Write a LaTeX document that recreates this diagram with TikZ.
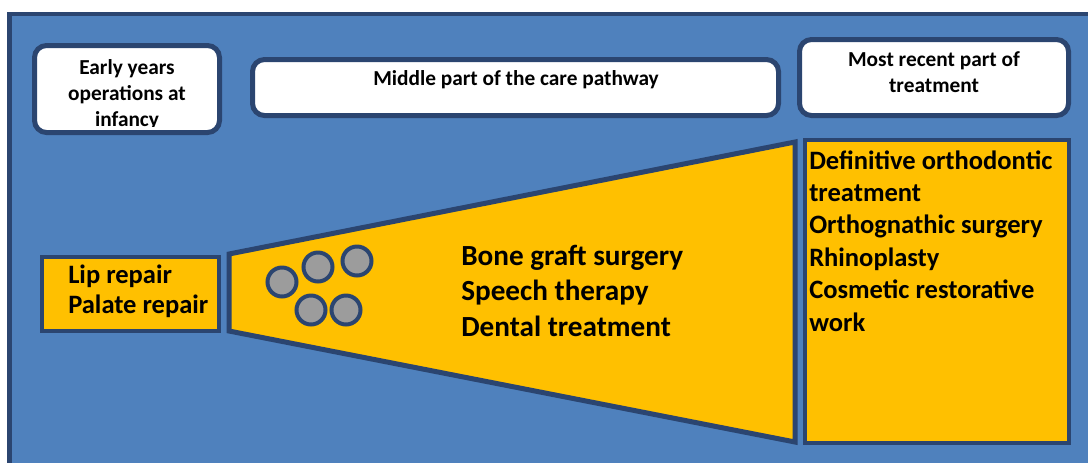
\documentclass[tikz,border=0pt]{standalone}
\usepackage{fontspec}
\setmainfont{Carlito}[BoldFont={Carlito Bold}]
\definecolor{bgblue}{HTML}{4F81BD}
\definecolor{edge}{HTML}{2B4570}
\definecolor{gold}{HTML}{FFC000}
\definecolor{dot}{HTML}{9C9C9C}
\begin{document}
\begin{tikzpicture}[x=0.75pt,y=-0.75pt,
  wbox/.style={draw=edge,fill=white,line width=3.75pt,rounded corners=9pt,inner sep=0pt},
  ybox/.style={draw=edge,fill=gold,line width=3.2pt,inner sep=0pt},
  dotc/.style={circle,draw=edge,fill=dot,line width=3pt,minimum size=21.75pt,inner sep=0pt},
  head/.style={font=\bfseries\fontsize{16pt}{19.5pt}\selectfont,align=center,inner sep=0pt,anchor=base},
  item/.style={font=\bfseries\fontsize{19.9pt}{22.5pt}\selectfont,align=left,inner sep=0pt,anchor=base west},
  mid/.style={font=\bfseries\fontsize{21.9pt}{26.5pt}\selectfont,align=left,inner sep=0pt,anchor=base west},
  rit/.style={font=\bfseries\fontsize{19.9pt}{24.3pt}\selectfont,align=left,inner sep=0pt,anchor=base west}]
\useasboundingbox (0,0) rectangle (1088,462);
\clip (0,0) rectangle (1088,462);
\fill[white] (0,0) rectangle (1088,462);
\draw[draw=edge,fill=bgblue,line width=3.5pt] (9.5,14) rectangle (1110,480);
% header boxes
\node[wbox,minimum width=138.75pt,minimum height=65.25pt] (early) at (127,89) {};
\node[wbox,minimum width=394.5pt,minimum height=42pt] (middle) at (515.5,87.5) {};
\node[wbox,minimum width=201.75pt,minimum height=57pt] (recent) at (934,77.5) {};
\begin{scope}
\clip (30,40) rectangle (225,126);
\node[head] (earlyt) at (127,126) {Early years\\operations at\\infancy};
\end{scope}
\node[head] (middlet) at (516,85) {Middle part of the care pathway};
\node[head] (recentt) at (934,92) {Most recent part of\\treatment};
% funnel
\draw[draw=edge,fill=gold,line width=3.75pt,line join=miter] (229,254) -- (795,142) -- (795,442) -- (229,331) -- cycle;
\node[ybox,minimum width=132.75pt,minimum height=55.5pt] (lip) at (130.5,294) {};
\node[ybox,minimum width=198pt,minimum height=227.25pt] (late) at (937,291.5) {};
\node[item] (lipt) at (68,313) {Lip repair\\Palate repair};
\node[dotc] (c1) at (282,282) {};
\node[dotc] (c2) at (318,267) {};
\node[dotc] (c3) at (357,261) {};
\node[dotc] (c4) at (311,310) {};
\node[dotc] (c5) at (346,310) {};
\node[mid] (midt) at (461,336) {Bone graft surgery\\Speech therapy\\Dental treatment};
\node[rit] (latet) at (809,331) {Definitive orthodontic\\treatment\\Orthognathic surgery\\Rhinoplasty\\Cosmetic restorative\\work};
\end{tikzpicture}
\end{document}
